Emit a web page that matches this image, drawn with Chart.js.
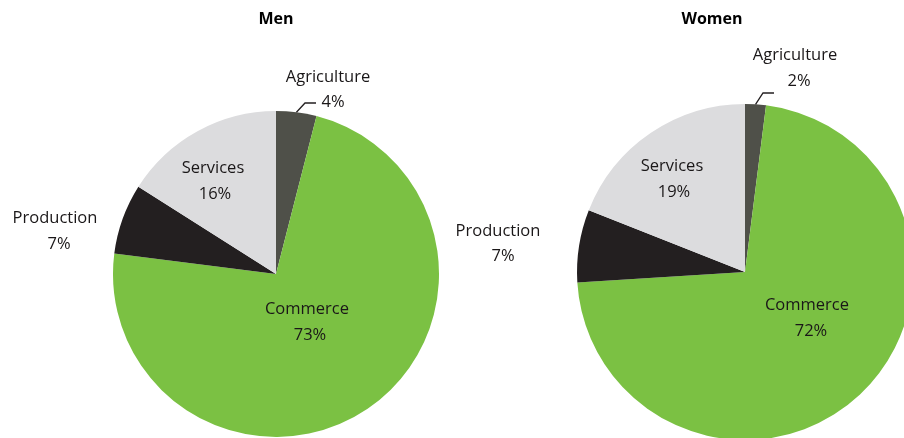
<!DOCTYPE html>
<html>
<head>
<meta charset="utf-8">
<script src="https://cdn.jsdelivr.net/npm/chart.js@4.4.1/dist/chart.umd.min.js"></script>
<style>
  html, body { margin: 0; padding: 0; background: #fff; overflow: hidden; }
  #wrap { position: relative; width: 904px; height: 438px; overflow: hidden; }
  .box { position: absolute; top: 0; width: 452px; height: 438px; }
  .title { position: absolute; top: 7px; font: bold 16px "Open Sans", sans-serif; color: #000; transform: translateX(-50%); }
</style>
</head>
<body>
<div id="wrap">
  <div class="box" style="left:0"><canvas id="men"></canvas></div>
  <div class="box" style="left:452px"><canvas id="women"></canvas></div>
  <div class="title" style="left:276px">Men</div>
  <div class="title" style="left:712px">Women</div>
</div>
<script>
// Data (share of employment by sector, %)
const sectors = ['Agriculture', 'Commerce', 'Production', 'Services'];
const menValues = [4, 73, 7, 16];
const womenValues = [2, 72, 7, 19];
const sectorColors = ['#4f5049', '#7bc143', '#231f20', '#dcdcde'];

// label layout, relative to the pie centre
const menLabels = [
    { name: [52, -197], pct: [57, -172], leader: [[29, -171], [40, -171]] },
    { name: [31, 35], pct: [34, 61] },
    { name: [-221, -56], pct: [-217, -30] },
    { name: [-63, -106], pct: [-61, -80] }
];
const womenLabels = [
    { name: [50, -217], pct: [54, -191], leader: [[18, -179], [29, -179]] },
    { name: [62, 33], pct: [66, 59] },
    { name: [-247, -41], pct: [-242, -16] },
    { name: [-73, -106], pct: [-71, -80] }
];

const pieLabels = {
    id: 'pieLabels',
    afterDatasetsDraw(chart, args, opts) {
        const ctx = chart.ctx;
        const arcs = chart.getDatasetMeta(0).data;
        const values = chart.data.datasets[0].data;
        ctx.save();
        ctx.font = '16.5px "Open Sans", sans-serif';
        ctx.fillStyle = '#1a1718';
        ctx.textAlign = 'center';
        ctx.textBaseline = 'middle';
        arcs.forEach((arc, i) => {
            const lay = opts.layout[i];
            const cx = arc.x, cy = arc.y;
            ctx.fillText(chart.data.labels[i], cx + lay.name[0], cy + lay.name[1]);
            ctx.fillText(values[i] + '%', cx + lay.pct[0], cy + lay.pct[1]);
            if (lay.leader) {
                const mid = (arc.startAngle + arc.endAngle) / 2;
                const r = arc.outerRadius;
                ctx.beginPath();
                ctx.strokeStyle = '#231f20';
                ctx.lineWidth = 1.3;
                ctx.moveTo(cx + Math.cos(mid) * r, cy + Math.sin(mid) * r);
                lay.leader.forEach(p => ctx.lineTo(cx + p[0], cy + p[1]));
                ctx.stroke();
            }
        });
        ctx.restore();
    }
};

function makePie(id, values, layout, padding, radius) {
    new Chart(document.getElementById(id), {
        type: 'pie',
        data: {
            labels: sectors,
            datasets: [{
                data: values,
                backgroundColor: sectorColors,
                borderWidth: 0,
                radius: radius,
                clip: false
            }]
        },
        options: {
            responsive: true,
            maintainAspectRatio: false,
            animation: false,
            layout: { padding: padding },
            plugins: {
                legend: { display: false },
                tooltip: { enabled: false },
                pieLabels: { layout: layout }
            }
        },
        plugins: [pieLabels]
    });
}

// men pie: centre (276, 274), radius 163
makePie('men', menValues, menLabels, { left: 113, right: 13, top: 111, bottom: 1 }, 163);
// women pie: centre (745, 272), radius 168
makePie('women', womenValues, womenLabels, { left: 134, right: 0, top: 106, bottom: 0 }, 168);
</script>
</body>
</html>
